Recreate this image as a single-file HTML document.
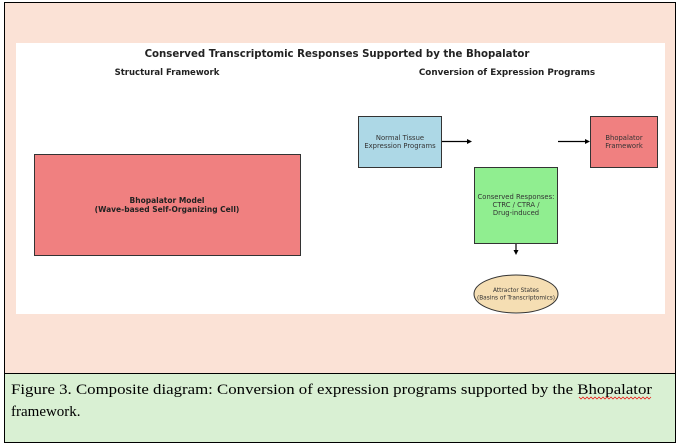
<!DOCTYPE html>
<html><head><style>
body{margin:0;width:678px;height:446px;background:#fff;overflow:hidden}
</style></head><body>
<svg width="678" height="446" xmlns="http://www.w3.org/2000/svg" style="position:absolute;left:0;top:0">
<rect x="4.5" y="2.5" width="671" height="371" fill="#fbe2d6" stroke="#000" stroke-width="1"/>
<rect x="4.5" y="373.5" width="671" height="69" fill="#d9f0d3" stroke="#000" stroke-width="1"/>
<rect x="16" y="43" width="649" height="271" fill="#fff"/>
<g font-family="DejaVu Sans, sans-serif" font-weight="bold" fill="#222">
<text x="337" y="57" font-size="10.2" text-anchor="middle">Conserved Transcriptomic Responses Supported by the Bhopalator</text>
<text x="167" y="75" font-size="8.5" text-anchor="middle">Structural Framework</text>
<text x="507" y="75" font-size="8.8" text-anchor="middle">Conversion of Expression Programs</text>
</g>
<rect x="34.5" y="154.5" width="266" height="101" fill="#f08080" stroke="#333"/>
<g font-family="DejaVu Sans, sans-serif" font-weight="bold" font-size="7.5" fill="#222" text-anchor="middle">
<text x="167" y="203">Bhopalator Model</text>
<text x="167" y="212">(Wave-based Self-Organizing Cell)</text>
</g>
<rect x="358.5" y="116.5" width="83" height="51" fill="#add8e6" stroke="#333"/>
<rect x="590.5" y="116.5" width="67" height="51" fill="#f08080" stroke="#333"/>
<rect x="474.5" y="167.5" width="83" height="76" fill="#90ee90" stroke="#333"/>
<ellipse cx="516" cy="294" rx="42" ry="19" fill="#f5deb3" stroke="#333"/>
<g font-family="DejaVu Sans, sans-serif" font-size="6.8" fill="#333" text-anchor="middle">
<text x="400" y="140">Normal Tissue</text>
<text x="400" y="148">Expression Programs</text>
<text x="624" y="140">Bhopalator</text>
<text x="624" y="148">Framework</text>
<text x="516" y="199">Conserved Responses:</text>
<text x="516" y="207">CTRC / CTRA /</text>
<text x="516" y="215">Drug-induced</text>
</g>
<g font-family="DejaVu Sans, sans-serif" font-size="5.8" fill="#333" text-anchor="middle">
<text x="516" y="292">Attractor States</text>
<text x="516" y="299.5">(Basins of Transcriptomics)</text>
</g>
<g stroke="#000" stroke-width="1.2">
<line x1="442" y1="141.5" x2="468" y2="141.5"/>
<line x1="558" y1="141.5" x2="586" y2="141.5"/>
<line x1="516" y1="244" x2="516" y2="251"/>
</g>
<g fill="#000">
<polygon points="472,141.5 467,139 467,144"/>
<polygon points="590,141.5 585,139 585,144"/>
<polygon points="516,255 513.5,250 518.5,250"/>
</g>
<g font-family="Liberation Serif, serif" font-size="15" fill="#000">
<text x="11" y="394" textLength="641" lengthAdjust="spacingAndGlyphs">Figure 3. Composite diagram: Conversion of expression programs supported by the Bhopalator</text>
<text x="11" y="416">framework.</text>
</g>
<path d="M579 397 l2 2 l2 -2 l2 2 l2 -2 l2 2 l2 -2 l2 2 l2 -2 l2 2 l2 -2 l2 2 l2 -2 l2 2 l2 -2 l2 2 l2 -2 l2 2 l2 -2 l2 2 l2 -2 l2 2 l2 -2 l2 2 l2 -2 l2 2 l2 -2 l2 2 l2 -2 l2 2 l2 -2 l2 2 l2 -2 l2 2 l2 -2 l2 2 l2 -2" fill="none" stroke="#e00" stroke-width="0.7"/>
</svg>
</body></html>
